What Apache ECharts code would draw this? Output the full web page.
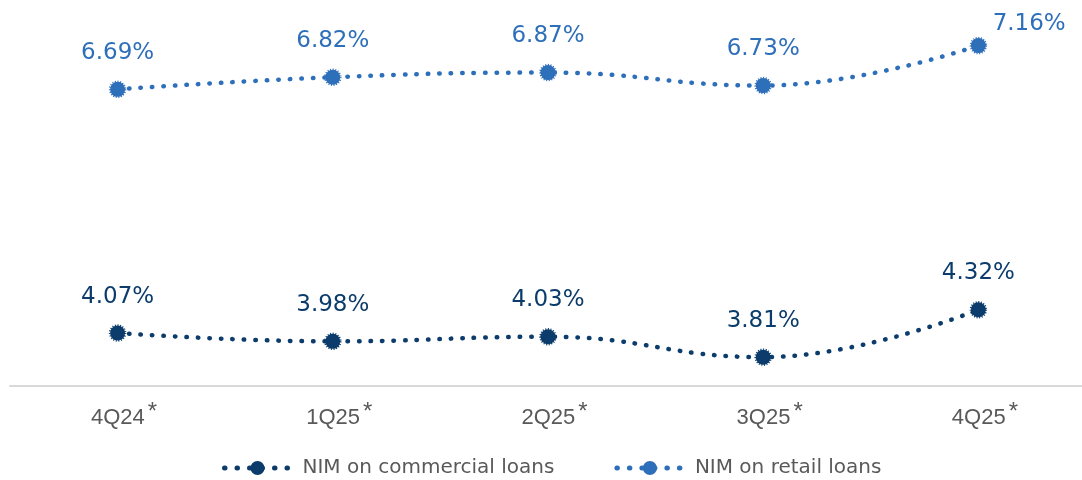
<!DOCTYPE html>
<html>
<head>
<meta charset="utf-8">
<script src="https://cdn.jsdelivr.net/npm/echarts@6/dist/echarts.min.js"></script>
<style>
  html, body { margin: 0; padding: 0; background: #ffffff; }
  #main { width: 1082px; height: 480px; }
</style>
</head>
<body>
<div id="main"></div>
<script>
// quarters on the x axis (every label carries a superscript asterisk)
var quarters = ['4Q24', '1Q25', '2Q25', '3Q25', '4Q25'];
var commercialNim = [4.07, 3.98, 4.03, 3.81, 4.32];
var retailNim = [6.69, 6.82, 6.87, 6.73, 7.16];

var colCommercial = '#0b3c6b';
var colRetail = '#2e6fba';
var fontFam = 'DejaVu Sans, sans-serif';
var axisFam = 'Liberation Sans, Arial, sans-serif';

var myChart = echarts.init(document.getElementById('main'));

function makeSeries(name, data, color, lastLabelRight) {
  return {
    name: name,
    type: 'line',
    data: data.map(function (v, i) {
      var item = { value: v };
      if (lastLabelRight && i === data.length - 1) {
        item.label = { position: [23, -24] };
      }
      return item;
    }),
    smooth: 0.45,
    symbol: 'circle',
    symbolSize: 15,
    itemStyle: {
      color: color,
      borderColor: color,
      borderWidth: 2.5,
      borderType: [1, 1.5]
    },
    lineStyle: {
      color: color,
      width: 4.5,
      type: [0.5, 11],
      cap: 'round'
    },
    label: {
      show: true,
      position: 'top',
      distance: 16,
      color: color,
      fontSize: 23,
      fontFamily: fontFam,
      formatter: function (p) { return p.value.toFixed(2) + '%'; }
    }
  };
}

var option = {
  backgroundColor: '#ffffff',
  animation: false,
  grid: { left: 10, width: 1076, top: 14, bottom: 94, outerBoundsMode: 'none' },
  legend: {
    bottom: 2,
    left: 222,
    padding: 0,
    itemGap: 60,
    itemWidth: 66,
    itemHeight: 15,
    lineStyle: { width: 5, type: [0.5, 12], cap: 'round' },
    textStyle: { color: '#595959', fontSize: 20, fontFamily: fontFam, padding: [0, 0, 0, 7] },
    data: ['NIM on commercial loans', 'NIM on retail loans']
  },
  xAxis: {
    type: 'category',
    data: quarters,
    boundaryGap: true,
    axisLine: { lineStyle: { color: '#d9d9d9', width: 2 } },
    axisTick: { show: false },
    axisLabel: {
      margin: 14,
      formatter: function (v) { return '{q|' + v + '}{s|*}'; },
      rich: {
        q: { color: '#595959', fontSize: 22, fontFamily: axisFam, padding: [0, 0, 0, 13] },
        s: { color: '#595959', fontSize: 24, fontFamily: axisFam, verticalAlign: 'top', padding: [0, 0, 12, 3] }
      }
    }
  },
  yAxis: {
    type: 'value',
    min: 3.5,
    max: 7.5,
    show: false,
    splitLine: { show: false }
  },
  series: [
    makeSeries('NIM on commercial loans', commercialNim, colCommercial, false),
    makeSeries('NIM on retail loans', retailNim, colRetail, true)
  ]
};

myChart.setOption(option);
</script>
</body>
</html>
